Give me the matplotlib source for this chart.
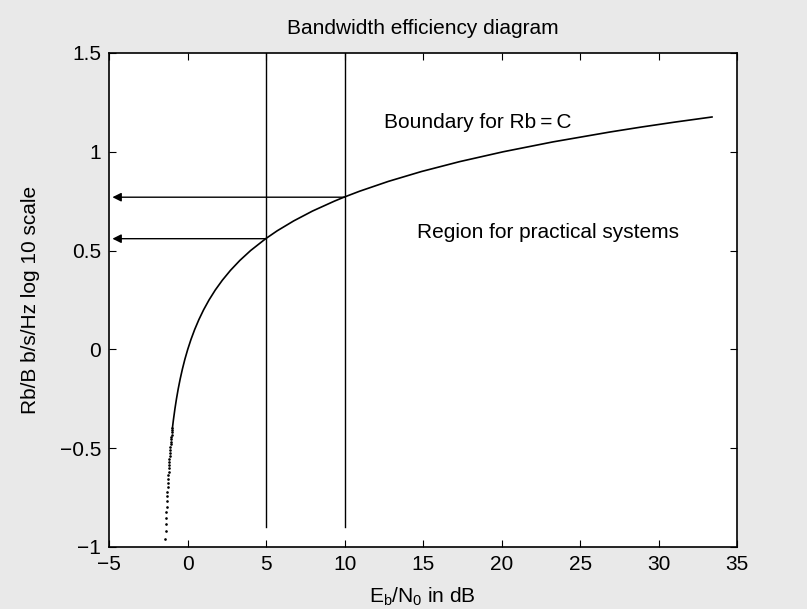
import matplotlib.pyplot as plt

plt.rcParams['font.family'] = ['Liberation Sans', 'DejaVu Sans']
plt.rcParams['mathtext.fontset'] = 'custom'
plt.rcParams['mathtext.rm'] = 'Liberation Sans'
plt.rcParams['mathtext.it'] = 'Liberation Sans'

# boundary curve (Eb/N0 in dB, log10 Rb/B)
# sparse dotted bottom part
dot_x = [-1.4251, -1.4098, -1.3946, -1.3793, -1.3640, -1.3487, -1.3333,
         -1.3180, -1.3026, -1.2872, -1.2718, -1.2564, -1.2409, -1.2255,
         -1.2100, -1.1945, -1.1790, -1.1635, -1.1479, -1.1323, -1.1167,
         -1.1012, -1.0855, -1.0699, -1.0543, -1.0386, -1.0229, -1.0072,
         -0.9915, -0.9757]
dot_y = [-0.9586, -0.9208, -0.8861, -0.8539, -0.8239, -0.7959, -0.7696,
         -0.7447, -0.7212, -0.6990, -0.6778, -0.6576, -0.6383, -0.6198,
         -0.6021, -0.5850, -0.5686, -0.5528, -0.5376, -0.5229, -0.5086,
         -0.4949, -0.4815, -0.4685, -0.4559, -0.4437, -0.4318, -0.4202,
         -0.4089, -0.3979]
# solid part
curve_x = [-0.9757, -0.918, -0.815, -0.717, -0.607, -0.482, -0.341, -0.182,
           0.0, 0.206, 0.440, 0.707, 1.010, 1.357, 1.752, 2.206, 2.725,
           3.32, 4.005, 4.965, 5.70, 6.75, 7.95, 9.34, 9.95, 10.94, 12.78,
           14.89, 17.32, 20.10, 23.27, 26.90, 28.89, 31.02, 33.4]
curve_y = [-0.3979, -0.36, -0.30, -0.25, -0.20, -0.15, -0.10, -0.05,
           0.0, 0.05, 0.10, 0.15, 0.20, 0.25, 0.30, 0.35, 0.40,
           0.45, 0.50, 0.56, 0.60, 0.65, 0.70, 0.75, 0.77, 0.80, 0.85,
           0.90, 0.95, 1.00, 1.05, 1.10, 1.125, 1.15, 1.176]

# marked operating points
mark_x = [5, 10]
mark_y = [0.56, 0.77]

fs = 15

fig = plt.figure(figsize=(8.07, 6.09), dpi=100, facecolor='#e9e9e9')
ax = fig.add_axes([0.1354, 0.102, 0.778, 0.811])

ax.plot(dot_x, dot_y, linestyle='none', marker='.', markersize=1.8, color='black')
ax.plot(curve_x, curve_y, color='black', linewidth=1.2)

for xv, yv in zip(mark_x, mark_y):
    ax.plot([xv, xv], [-0.9, 1.5], color='black', linewidth=1.0)
    ax.annotate('', xy=(-4.8, yv), xytext=(xv, yv),
                arrowprops=dict(arrowstyle='-|>', color='black', lw=1.0,
                                mutation_scale=13, shrinkA=0, shrinkB=0))

ax.text(12.5, 1.146, 'Boundary for Rb\u2009=\u2009C', fontsize=fs, va='center')
ax.text(14.6, 0.589, 'Region for practical systems', fontsize=fs, va='center')

ax.set_xlim(-5, 35)
ax.set_ylim(-1, 1.5)
ax.set_xticks([-5, 0, 5, 10, 15, 20, 25, 30, 35])
ax.set_yticks([-1, -0.5, 0, 0.5, 1, 1.5])
ax.set_yticklabels(['\u22121', '\u22120.5', '0', '0.5', '1', '1.5'])
ax.tick_params(direction='in', top=True, right=True, length=5, labelsize=fs,
               width=0.8, pad=6)
for s in ax.spines.values():
    s.set_linewidth(1.2)

ax.set_title('Bandwidth efficiency diagram', fontsize=fs, pad=14)
ax.set_xlabel(r'E$_\mathrm{b}$/N$_0$ in dB', fontsize=fs, va='baseline')
ax.set_ylabel('Rb/B b/s/Hz log 10 scale', fontsize=fs)
ax.xaxis.set_label_coords(0.498, -0.1134)
ax.yaxis.set_label_coords(-0.11, 0.5)

fig.savefig('out.png', dpi=100, facecolor=fig.get_facecolor())
